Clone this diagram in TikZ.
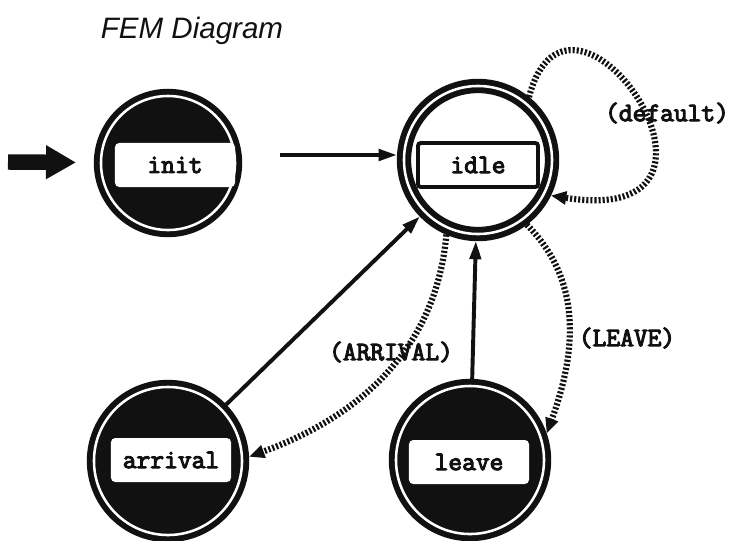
\documentclass[tikz,border=0pt]{standalone}
\usepackage{fontspec}
\usetikzlibrary{arrows.meta}
\newfontfamily\femmono{Latin Modern Mono}[AutoFakeBold=4]
\newfontfamily\femsans{Liberation Sans}
\definecolor{FemInk}{HTML}{111111}
\definecolor{FemPaper}{HTML}{FFFFFF}
\tikzset{
  femstate/.style={circle,draw=FemInk,fill=FemInk,double=FemPaper,double distance=1.8pt,line width=4.2pt,minimum size=3.7cm,inner sep=0pt,outer sep=5pt},
  femlabel/.style={fill=FemPaper,rounded corners=3pt,minimum width=3cm,minimum height=1.1cm,inner xsep=0.2cm,font=\femmono\bfseries\fontsize{19}{19}\selectfont,text=FemInk},
  femmove/.style={draw=FemInk,line width=2.8pt,-{Triangle[length=13pt,width=8pt]}},
  femevent/.style={draw=FemInk,line width=4.4pt,dash pattern=on 1.5pt off 1.4pt,-{Triangle[length=11pt,width=9pt]}},
  femtext/.style={font=\femmono\bfseries\fontsize{19}{19}\selectfont,text=FemInk}
}
\begin{document}
\begin{tikzpicture}[x=0.025cm,y=-0.025cm]
  \fill[FemPaper] (0,0) rectangle (734,540);
  \useasboundingbox (0,0) rectangle (734,540);
  \node[font=\femsans\itshape\fontsize{21}{21}\selectfont,text=FemInk] (title) at (192,31) {FEM Diagram};

  \node[femstate,minimum size=3.35cm] (init) at (168,163) {};
  \node[femstate,fill=FemPaper] (idle) at (478,160) {};
  \node[femstate] (arrival) at (168,461) {};
  \node[femstate] (leave) at (470,460) {};

  \node[femlabel] (init-lbl) at (175,165) {init};
  \node[femlabel,draw=FemInk,line width=2.8pt,rounded corners=2pt] (idle-lbl) at (478,165) {idle};
  \node[femlabel] (arrival-lbl) at (171,460) {arrival};
  \node[femlabel] (leave-lbl) at (469,462) {leave};

  \node[femtext] (default-lbl) at (667,113) {(default)};
  \node[femtext] (arrival-ev) at (391,352) {(ARRIVAL)};
  \node[femtext] (leave-ev) at (627,338) {(LEAVE)};

  \coordinate (entry) at (8,162);
  \draw[FemInk,line width=11pt,-{Triangle[length=0.75cm,width=0.8cm]},shorten >=0.45cm] (entry) -- (init);

  \draw[femmove,shorten <=0.95cm] (init.east |- 0,155) -- (idle.west |- 0,155);
  \draw[femmove] (arrival) -- (idle);
  \draw[femmove] (leave) -- (idle);

  \draw[femevent] (idle.247) to[out=-95,in=20] (arrival.3);
  \draw[femevent] (idle.-53) to[out=-45,in=70] (leave.19);
  \draw[femevent] (idle.51) .. controls (570,-60) and (770,230) .. (idle.-26);
\end{tikzpicture}
\end{document}
